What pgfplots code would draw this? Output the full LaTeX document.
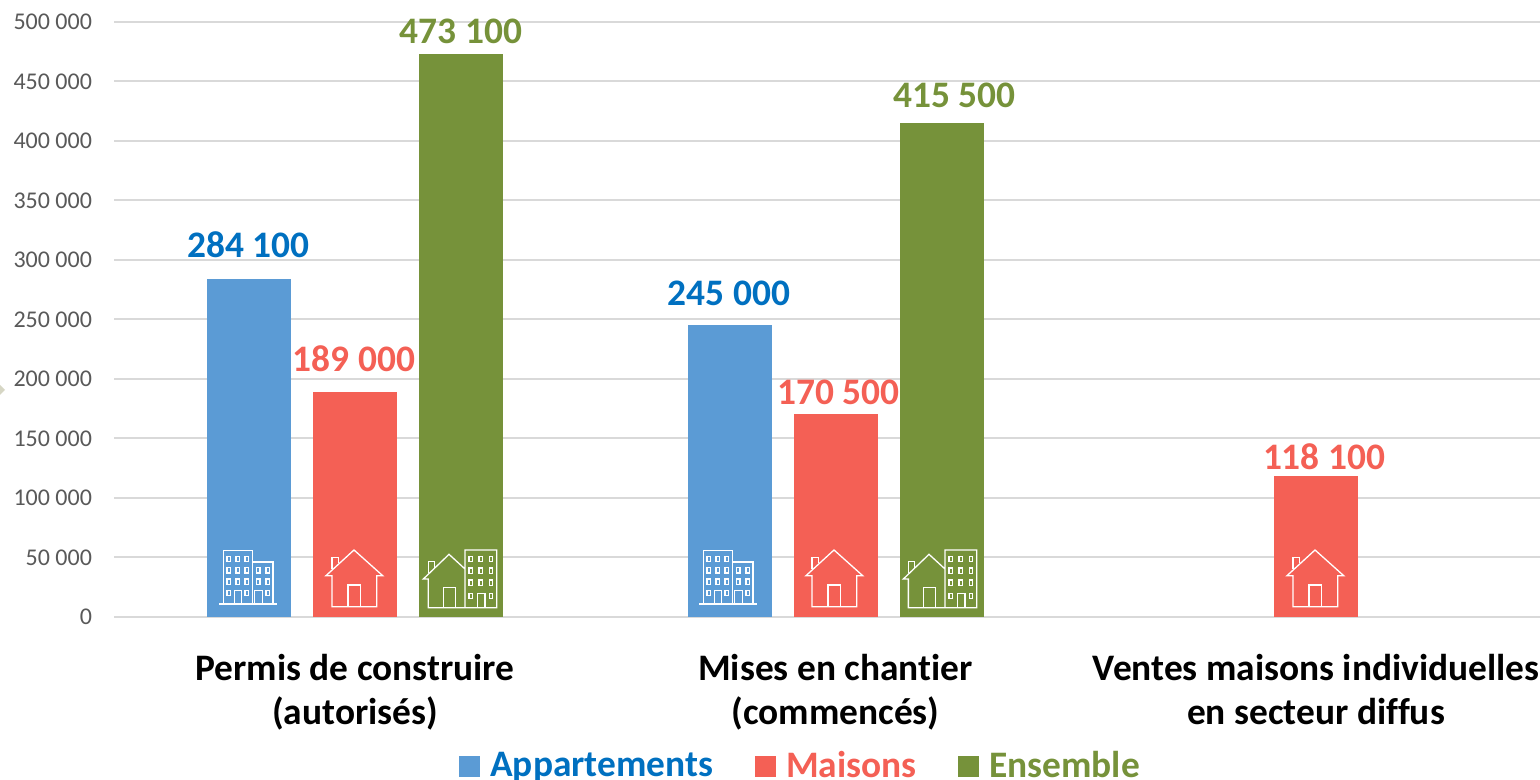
\documentclass[border=0pt]{standalone}
\usepackage{pgfplots}
\usepackage{fontspec}
\setmainfont[RawFeature={-liga}]{Carlito}
\pgfplotsset{compat=1.18}
\definecolor{barblue}{RGB}{91,155,213}
\definecolor{barred}{RGB}{244,96,85}
\definecolor{bargreen}{RGB}{118,146,58}
\definecolor{txtblue}{RGB}{0,112,192}
\definecolor{gridc}{RGB}{217,217,217}
\definecolor{tickc}{RGB}{89,89,89}
% icons: local coordinates are 3x pixels relative to the zoomed crop at (200,530)
\newcommand{\winrow}[2]{\foreach \wx in {#1}{\foreach \wy in {#2}{\draw (\wx-5,\wy-8) rectangle (\wx+5,\wy+8);}}}
\tikzset{icon/.style={shift={(#1)},x=0.16667pt,y=-0.16667pt,draw=white,line width=0.65pt,line join=miter}}
\newcommand{\iconbldg}[1]{\begin{scope}[icon={#1}]
 \draw (70,222) -- (70,62) -- (157,62) -- (157,222);
 \draw (157,96) -- (219,96) -- (219,222);
 \draw (58,222) -- (231,222);
 \winrow{86,113,140}{87,121,155}
 \winrow{175,203}{121,155}
 \winrow{86,140,203}{189}
 \draw (104,222) -- (104,182) -- (124,182) -- (124,222);
 \draw (164,222) -- (164,182) -- (187,182) -- (187,222);
\end{scope}}
\newcommand{\iconhouse}[1]{\begin{scope}[icon={#1}]
 \draw (378,137) -- (462,60) -- (548,137) -- (530,137) -- (530,230) -- (396,230) -- (396,137) -- cycle;
 \draw (396,118) -- (396,82) -- (415,82) -- (415,100);
 \draw (444,230) -- (444,165) -- (482,165) -- (482,230);
\end{scope}}
\newcommand{\iconboth}[1]{\begin{scope}[icon={#1}]
 \draw (795,117) -- (747,73) -- (670,147) -- (685,147) -- (685,233) -- (890,233) -- (890,60) -- (795,60) -- (795,233);
 \draw (685,130) -- (685,95) -- (704,95) -- (704,113);
 \draw (730,233) -- (730,173) -- (766,173) -- (766,233);
 \winrow{812,842,873}{87,122,158}
 \winrow{812,873}{198}
 \draw (833,233) -- (833,190) -- (855,190) -- (855,233);
\end{scope}}
% lab={text colour}{dx px}{dy px}
\pgfplotsset{lab/.style n args={3}{
  point meta=y,
  nodes near coords={\pgfmathprintnumber{\pgfplotspointmeta}},
  nodes near coords style={anchor=center,inner sep=0pt,font=\fontsize{18.7}{20}\selectfont\bfseries,xshift={#2*0.5pt},yshift={#3*0.5pt},text=#1}},
  sq/.style={/pgfplots/legend image code/.code={\fill[##1] (0,-5.25pt) rectangle (10.5pt,5.25pt);}},
  sA/.style={draw=none,fill=barblue,bar shift=-53pt,sq},
  sM/.style={draw=none,fill=barred,bar shift=0pt,sq},
  sE/.style={draw=none,fill=bargreen,bar shift=53pt,sq}}
\begin{document}
\begin{tikzpicture}[x=0.5pt,y=0.5pt]
\useasboundingbox (0,0) rectangle (1540,780);
\fill[fill={rgb,255:red,214;green,214;blue,196}] (0,385) -- (5,390) -- (0,395) -- cycle;
\begin{axis}[
  at={(57pt,81.5pt)},anchor=south west,
  scale only axis,width=713pt,height=297.5pt,
  xmin=-0.5016,xmax=2.466,ymin=0,ymax=500000,
  ytick distance=50000,xtick={0,1,2},
  xticklabels={{Permis de construire\\(autorisés)},{Mises en chantier\\(commencés)},{Ventes maisons individuelles\\en secteur diffus}},
  ymajorgrids,grid style={gridc,line width=1pt},
  axis line style={draw=none},major tick length=0pt,tick style={draw=none},
  scaled y ticks=false,
  /pgf/number format/.cd,fixed,precision=0,1000 sep={\ },assume math mode=true,/pgfplots/.cd,
  y tick label style={font=\fontsize{12}{14}\selectfont,text=tickc,xshift=-7.5pt},
  x tick label style={font=\fontsize{18.7}{22}\selectfont\bfseries,align=center,text=black,yshift=-15pt},
  legend style={at={(axis description cs:0.4822,-0.2505)},anchor=center,draw=none,fill=none,
    font=\fontsize{18.7}{20}\selectfont\bfseries,legend columns=-1,
    /tikz/every even column/.append style={column sep=19pt}},
  ybar,
  bar width=42pt,
  clip=false,
]
\addplot[sA,lab={txtblue}{-0.5}{34}] coordinates {(0,284100)};
\addlegendentry{\hspace*{3pt}\textcolor{txtblue}{Appartements}}
\addplot[sM,lab={barred}{-1}{33}] coordinates {(0,189000)};
\addlegendentry{\hspace*{3pt}\textcolor{barred}{Maisons}}
\addplot[sE,lab={bargreen}{0}{23}] coordinates {(0,473100)};
\addlegendentry{\hspace*{3pt}\textcolor{bargreen}{Ensemble}}
\addplot[forget plot,sA,lab={txtblue}{-0.5}{32}] coordinates {(1,245000)};
\addplot[forget plot,sM,lab={barred}{3}{22}] coordinates {(1,170500)};
\addplot[forget plot,sE,lab={bargreen}{13}{27}] coordinates {(1,415500)};
\addplot[forget plot,sM,lab={barred}{8}{20}] coordinates {(2,118100)};
\end{axis}
% decorative icons
\iconbldg{200,250}
\iconhouse{200,250}
\iconboth{200,250}
\iconbldg{680,250}
\iconhouse{680,250}
\iconboth{680,250}
\iconhouse{1161,250}
\end{tikzpicture}
\end{document}
